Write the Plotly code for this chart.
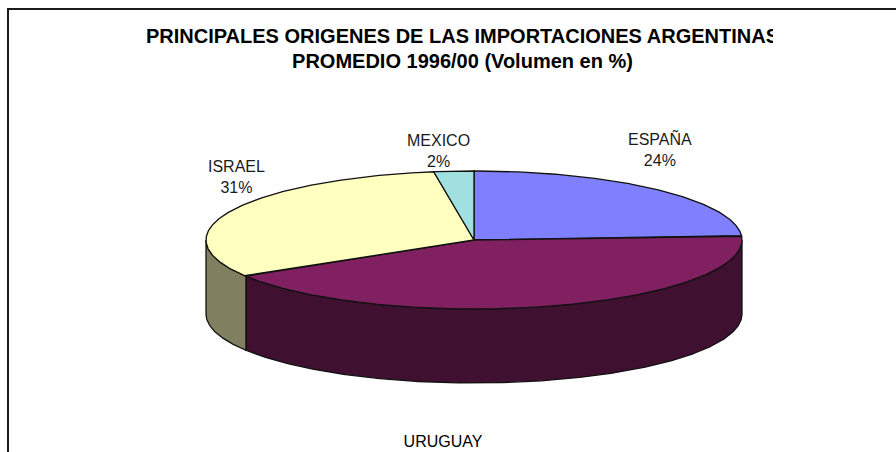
import numpy as np
import plotly.graph_objects as go

# ---- data ----
categories = ["ESPAÑA", "URUGUAY", "ISRAEL", "MEXICO"]
values = [24.0, 42.2, 31.4, 2.4]
title_lines = ["PRINCIPALES ORIGENES DE LAS IMPORTACIONES ARGENTINAS",
               "PROMEDIO 1996/00 (Volumen en %)"]

# ---- styles ----
top_colors = ["#8080FF", "#802060", "#FFFFC0", "#A0E0E0"]
side_colors = ["#404080", "#401030", "#808060", "#507070"]
W, H = 896, 452
CX, CY, RX, RY, DEPTH = 474, 240, 268, 69, 74
FONT = "Liberation Sans, Arial, sans-serif"
INK = "#111111"


def rim(t0, t1):
    t = np.radians(np.linspace(t0, t1, max(2, int(abs(t1 - t0) * 2))))
    return CX + RX * np.sin(t), CY - RY * np.cos(t)


fig = go.Figure()
edges = np.concatenate([[0], np.cumsum(values)]) / sum(values) * 360

# walls of the disc (front half only)
for i, name in enumerate(categories):
    a, b = max(edges[i], 90), min(edges[i + 1], 270)
    if a >= b:
        continue
    x, y = rim(a, b)
    fig.add_trace(go.Scatter(
        x=np.concatenate([x, x[::-1], x[:1]]),
        y=np.concatenate([y, y[::-1] + DEPTH, y[:1]]),
        mode="lines", fill="toself", fillcolor=side_colors[i],
        line=dict(color=INK, width=1.3), hoverinfo="skip", showlegend=False,
    ))

# top faces
for i, name in enumerate(categories):
    x, y = rim(edges[i], edges[i + 1])
    fig.add_trace(go.Scatter(
        x=np.concatenate([[CX], x, [CX]]),
        y=np.concatenate([[CY], y, [CY]]),
        mode="lines", fill="toself", fillcolor=top_colors[i],
        line=dict(color=INK, width=1.3), name=name, hoverinfo="skip", showlegend=False,
    ))

# title, clipped on its own subplot as in the reference
fig.add_trace(go.Scatter(
    x=[462.5, 462.5], y=[38, 63], text=title_lines, mode="text",
    textposition="middle center", cliponaxis=True,
    textfont=dict(family=FONT, size=20, color="#000000"),
    texttemplate="<b>%{text}</b>", xaxis="x2", yaxis="y", hoverinfo="skip", showlegend=False,
))
# clipped URUGUAY label
fig.add_trace(go.Scatter(
    x=[443], y=[443], text=[categories[1]], mode="text",
    textposition="middle center", cliponaxis=True,
    textfont=dict(family=FONT, size=16, color="#000000"),
    xaxis="x3", yaxis="y", hoverinfo="skip", showlegend=False,
))

label_pos = {"ESPAÑA": (660, 149), "ISRAEL": (236, 177), "MEXICO": (438, 151)}
annotations = [
    dict(x=label_pos[c][0], y=label_pos[c][1], xref="x", yref="y",
         text=f"{c}<br>{round(v)}%", showarrow=False, align="center",
         font=dict(family=FONT, size=16, color="#1A1A1A"))
    for c, v in zip(categories, values) if c in label_pos
]

hidden = dict(visible=False, fixedrange=True)
fig.update_layout(
    width=W, height=H, margin=dict(l=0, r=0, t=0, b=0),
    paper_bgcolor="#FFFFFF", plot_bgcolor="rgba(0,0,0,0)",
    xaxis=dict(range=[0, W], domain=[0, 1], **hidden),
    yaxis=dict(range=[H, 0], domain=[0, 1], **hidden),
    xaxis2=dict(range=[0, 773], domain=[0, 773 / W], anchor="y", **hidden),
    xaxis3=dict(range=[0, 482], domain=[0, 482 / W], anchor="y", **hidden),
    annotations=annotations,
    shapes=[dict(type="path", path=f"M 8,{H + 5} L 8,9 L {W + 5},9",
                 xref="x", yref="y", line=dict(color="#1A1A1A", width=2),
                 fillcolor="rgba(0,0,0,0)")],
)

fig.write_html("out.html", post_script="document.body.style.margin='0';",
               config={"displayModeBar": False})
